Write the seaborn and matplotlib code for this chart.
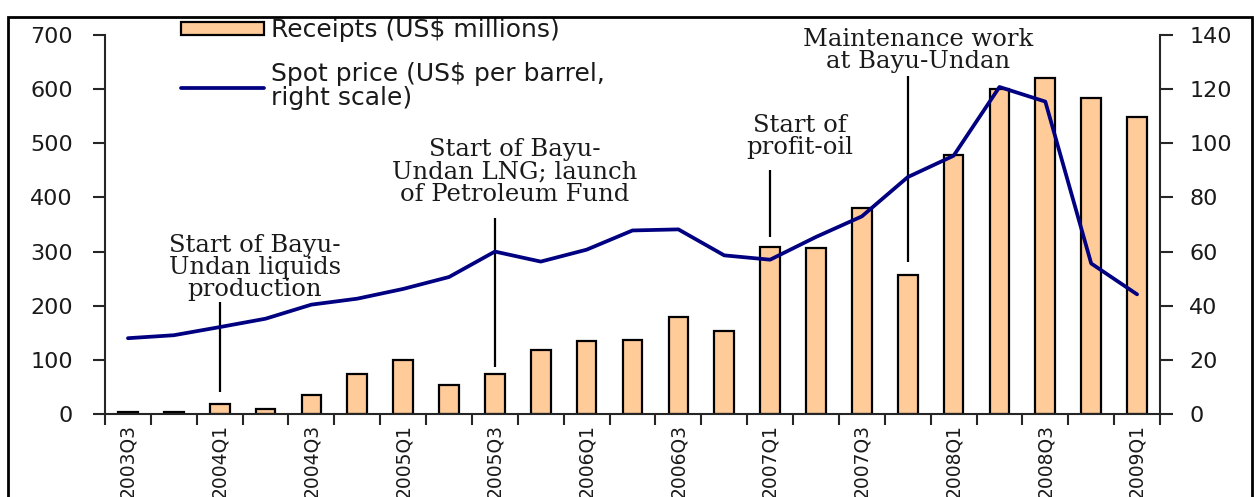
import numpy as np
import pandas as pd
import matplotlib
matplotlib.use('Agg')
import matplotlib.pyplot as plt
import matplotlib.patches as mpatches
from matplotlib.lines import Line2D
import seaborn as sns

# --- Dados ---
quarters = ['2003Q3', '2003Q4', '2004Q1', '2004Q2', '2004Q3', '2004Q4',
            '2005Q1', '2005Q2', '2005Q3', '2005Q4', '2006Q1', '2006Q2',
            '2006Q3', '2006Q4', '2007Q1', '2007Q2', '2007Q3', '2007Q4',
            '2008Q1', '2008Q2', '2008Q3', '2008Q4', '2009Q1']
receipts = [4, 4, 19, 9, 35, 73, 100, 54, 73, 118, 135, 137,
            180, 154, 308, 306, 380, 257, 478, 600, 620, 583, 548]
spot_price = [28.0, 29.1, 32.1, 35.2, 40.4, 42.6, 46.2, 50.6, 60.0, 56.3, 60.7, 67.8,
              68.2, 58.6, 57.0, 65.4, 73.0, 87.5, 95.4, 120.8, 115.4, 55.6, 44.2]

left_ticks = [0, 100, 200, 300, 400, 500, 600, 700]
right_ticks = [0, 20, 40, 60, 80, 100, 120, 140]

# anotações: (trimestre, texto, posição do texto, início e fim da linha)
notes_quarter = ['2004Q1', '2005Q3', '2007Q1', '2007Q4']
notes_text = ['Start of Bayu-\nUndan liquids\nproduction',
              'Start of Bayu-\nUndan LNG; launch\nof Petroleum Fund',
              'Start of\nprofit-oil',
              'Maintenance work\nat Bayu-Undan']
notes_text_x = [2.77, 8.44, 14.65, 17.22]
notes_text_y = [270, 447, 512, 672]
notes_line = [(41, 206), (86, 362), (327, 451), (281, 625)]

df = pd.DataFrame({'Trimestre': quarters, 'Receitas': receipts, 'Preco': spot_price})
df['pos'] = np.arange(len(df))

sns.set_style('ticks')
plt.rcParams['font.family'] = ['DejaVu Sans']

bar_color = '#FFCC99'
line_color = '#000080'
txt_color = '#1a1a1a'

fig = plt.figure(figsize=(12.6, 4.97), dpi=100)
ax = fig.add_axes([105 / 1260, 1 - 414 / 497, 1055 / 1260, 379 / 497])

# barras de receitas
sns.barplot(data=df, x='pos', y='Receitas', color=bar_color, edgecolor='black',
            linewidth=1.6, width=0.43, native_scale=True, ax=ax, saturation=1)

# linha do preço spot (escala direita)
ax2 = ax.twinx()
sns.lineplot(data=df, x='pos', y='Preco', color=line_color, linewidth=2.7, ax=ax2)

n = len(quarters)
ax.set_xlim(-0.5, n - 0.5)
ax.set_ylim(0, 700)
ax2.set_ylim(0, 140)
ax.set_yticks(left_ticks)
ax2.set_yticks(right_ticks)
ax.set_xlabel('')
ax.set_ylabel('')
ax2.set_xlabel('')
ax2.set_ylabel('')

# ticks no limite das categorias, rótulos a cada dois trimestres
ax.set_xticks(np.arange(-0.5, n, 1))
ax.set_xticklabels([])
ax.set_xticks(df['pos'][::2], minor=True)
ax.set_xticklabels(df['Trimestre'][::2], minor=True, rotation=90, fontsize=13.5, color=txt_color)
ax.tick_params(axis='x', which='major', length=8, width=1.5, direction='out')
ax.tick_params(axis='x', which='minor', length=0, pad=7)
ax.tick_params(axis='y', length=9, width=1.5, pad=14, labelsize=16, labelcolor=txt_color)
ax2.tick_params(axis='y', length=9, width=1.5, pad=12, labelsize=16, labelcolor=txt_color)
for lab in ax.get_xticklabels(minor=True):
    lab.set_verticalalignment('top')

for a in (ax, ax2):
    a.spines['top'].set_visible(False)
    for s in ('left', 'right', 'bottom'):
        a.spines[s].set_linewidth(1.5)
ax.spines['right'].set_visible(False)
ax2.spines['left'].set_visible(False)
ax2.spines['bottom'].set_visible(False)

# anotações
for q, t, tx, ty, (y0, y1) in zip(notes_quarter, notes_text, notes_text_x, notes_text_y, notes_line):
    xq = quarters.index(q)
    ax.vlines(xq, y0, y1, color='black', linewidth=1.6, zorder=5)
    ax.text(tx, ty, t, ha='center', va='center', family='DejaVu Serif',
            fontsize=17.5, linespacing=0.95, color=txt_color)

# legenda sem moldura
handles = [mpatches.Patch(facecolor=bar_color, edgecolor='black', linewidth=1.6),
           Line2D([0], [0], color=line_color, linewidth=2.7)]
labels = ['Receipts (US$ millions)', 'Spot price (US$ per barrel,\nright scale)']
leg = ax2.legend(handles, labels, loc='upper left', bbox_to_anchor=(0.063, 1.07),
                 frameon=False, fontsize=18, handlelength=3.3, handleheight=0.45,
                 handletextpad=0.3, labelspacing=0.8, borderaxespad=0, labelcolor=txt_color)
for t in leg.get_texts():
    t.set_linespacing(0.95)

# moldura da figura
fig.add_artist(mpatches.Rectangle((8 / 1260, -0.05), 1244 / 1260, 1.05 - 17 / 497,
                                  fill=False, edgecolor='black', linewidth=2,
                                  transform=fig.transFigure, clip_on=False))

plt.savefig('out.png', dpi=100)
